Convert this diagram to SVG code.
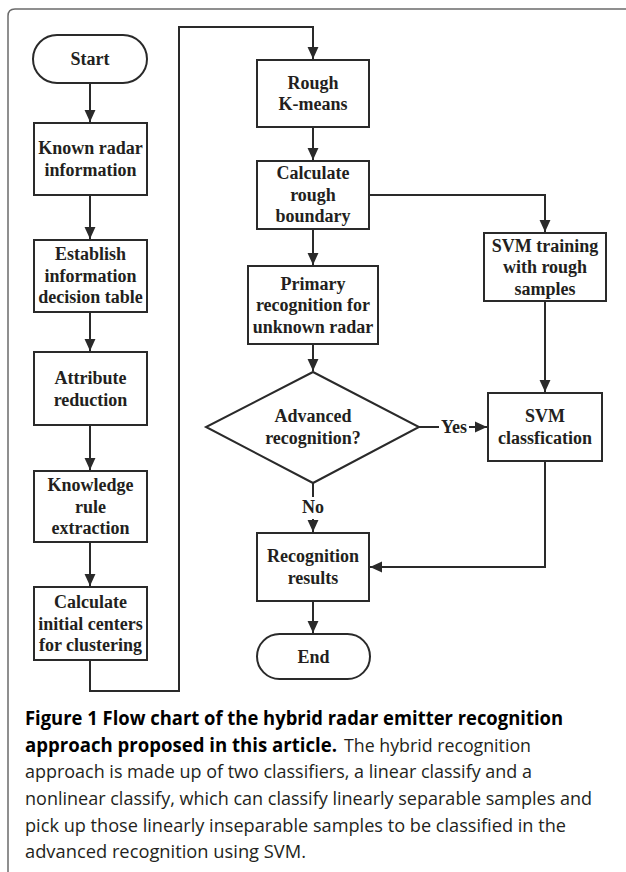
<svg xmlns="http://www.w3.org/2000/svg" width="626" height="872" viewBox="0 0 626 872">
<defs>
<style>
.box{fill:#fff;stroke:#2a2a2a;stroke-width:2}
.lbl{font-family:"Liberation Serif","Times New Roman",serif;font-weight:bold;font-size:18px;fill:#231f20;text-anchor:middle}
.con{fill:none;stroke:#2a2a2a;stroke-width:2}
.cap{font-family:"Open Sans","Noto Sans",sans-serif;font-size:19px;fill:#231f20}
.capb{font-weight:bold;fill:#000}
</style>
<marker id="ah" markerUnits="userSpaceOnUse" markerWidth="12" markerHeight="12" viewBox="0 0 11 10" refX="11" refY="5" orient="auto">
<path d="M0,0 L11,5 L0,10 z" fill="#2a2a2a"/>
</marker>
</defs>
<rect width="626" height="872" fill="#fff"/>
<path d="M8,872 V16 Q8,9 15,9 H626" fill="none" stroke="#6b6b6b" stroke-width="1.5"/>

<g id="connectors">
<path class="con" d="M90,83 V122" marker-end="url(#ah)"/>
<path class="con" d="M90,195 V239" marker-end="url(#ah)"/>
<path class="con" d="M90,312 V351" marker-end="url(#ah)"/>
<path class="con" d="M90,425 V470" marker-end="url(#ah)"/>
<path class="con" d="M90,542 V586" marker-end="url(#ah)"/>
<path class="con" d="M90,660 V691 H179 V27 H313 V59" marker-end="url(#ah)"/>
<path class="con" d="M313,127 V160" marker-end="url(#ah)"/>
<path class="con" d="M313,229 V265" marker-end="url(#ah)"/>
<path class="con" d="M369,195 H545 V232" marker-end="url(#ah)"/>
<path class="con" d="M313,344 V371" marker-end="url(#ah)"/>
<path class="con" d="M419,427 H439"/>
<path class="con" d="M469,427 H487" marker-end="url(#ah)"/>
<text class="lbl" x="454" y="433">Yes</text>
<path class="con" d="M545,301 V392" marker-end="url(#ah)"/>
<path class="con" d="M313,483 V497"/>
<text class="lbl" x="313" y="513">No</text>
<path class="con" d="M313,519 V532" marker-end="url(#ah)"/>
<path class="con" d="M545,461 V567 H370" marker-end="url(#ah)"/>
<path class="con" d="M313,601 V633" marker-end="url(#ah)"/>
</g>

<g id="start">
<rect class="box" x="33" y="35" width="114" height="48" rx="24"/>
<text class="lbl" x="90" y="65">Start</text>
</g>
<g id="known">
<rect class="box" x="34" y="123" width="113" height="72"/>
<text class="lbl" x="90.5" y="154">Known radar</text>
<text class="lbl" x="90.5" y="176">information</text>
</g>
<g id="establish">
<rect class="box" x="34" y="240" width="113" height="72"/>
<text class="lbl" x="90.5" y="260">Establish</text>
<text class="lbl" x="90.5" y="281.5">information</text>
<text class="lbl" x="90.5" y="303">decision table</text>
</g>
<g id="attribute">
<rect class="box" x="34" y="352" width="113" height="73"/>
<text class="lbl" x="90.5" y="384">Attribute</text>
<text class="lbl" x="90.5" y="405.5">reduction</text>
</g>
<g id="knowledge">
<rect class="box" x="34" y="471" width="113" height="71"/>
<text class="lbl" x="90.5" y="491">Knowledge</text>
<text class="lbl" x="90.5" y="512.5">rule</text>
<text class="lbl" x="90.5" y="534">extraction</text>
</g>
<g id="initial">
<rect class="box" x="34" y="587" width="113" height="73"/>
<text class="lbl" x="90.5" y="608">Calculate</text>
<text class="lbl" x="90.5" y="629.5">initial centers</text>
<text class="lbl" x="90.5" y="651">for clustering</text>
</g>
<g id="rough">
<rect class="box" x="257" y="60" width="112" height="67"/>
<text class="lbl" x="313" y="88.5">Rough</text>
<text class="lbl" x="313" y="110">K-means</text>
</g>
<g id="boundary">
<rect class="box" x="257" y="161" width="112" height="68"/>
<text class="lbl" x="313" y="179">Calculate</text>
<text class="lbl" x="313" y="200.5">rough</text>
<text class="lbl" x="313" y="222">boundary</text>
</g>
<g id="primary">
<rect class="box" x="248" y="266" width="130" height="78"/>
<text class="lbl" x="313" y="289.5">Primary</text>
<text class="lbl" x="313" y="311">recognition for</text>
<text class="lbl" x="313" y="332.5">unknown radar</text>
</g>
<g id="decision">
<polygon class="box" points="313,372 419,427 313,483 206,427"/>
<text class="lbl" x="313" y="422">Advanced</text>
<text class="lbl" x="313" y="443.5">recognition?</text>
</g>
<g id="svmtrain">
<rect class="box" x="484" y="233" width="122" height="68"/>
<text class="lbl" x="545" y="251.5">SVM training</text>
<text class="lbl" x="545" y="273">with rough</text>
<text class="lbl" x="545" y="294.5">samples</text>
</g>
<g id="svmclass">
<rect class="box" x="488" y="393" width="114" height="68"/>
<text class="lbl" x="545" y="422">SVM</text>
<text class="lbl" x="545" y="443.5">classfication</text>
</g>
<g id="results">
<rect class="box" x="257" y="533" width="112" height="68"/>
<text class="lbl" x="313" y="562">Recognition</text>
<text class="lbl" x="313" y="583.5">results</text>
</g>
<g id="end">
<rect class="box" x="257" y="634" width="113" height="45" rx="22.5"/>
<text class="lbl" x="313.5" y="662.5">End</text>
</g>

<g id="caption">
<text class="cap capb" x="25" y="725" textLength="538" lengthAdjust="spacingAndGlyphs">Figure 1 Flow chart of the hybrid radar emitter recognition</text>
<text class="cap capb" x="25" y="752" textLength="312" lengthAdjust="spacingAndGlyphs">approach proposed in this article.</text>
<text class="cap" x="344" y="752" textLength="187" lengthAdjust="spacingAndGlyphs">The hybrid recognition</text>
<text class="cap" x="25" y="778" textLength="507" lengthAdjust="spacingAndGlyphs">approach is made up of two classifiers, a linear classify and a</text>
<text class="cap" x="25" y="805" textLength="567" lengthAdjust="spacingAndGlyphs">nonlinear classify, which can classify linearly separable samples and</text>
<text class="cap" x="25" y="832" textLength="541" lengthAdjust="spacingAndGlyphs">pick up those linearly inseparable samples to be classified in the</text>
<text class="cap" x="25" y="858" textLength="281" lengthAdjust="spacingAndGlyphs">advanced recognition using SVM.</text>
</g>
</svg>
